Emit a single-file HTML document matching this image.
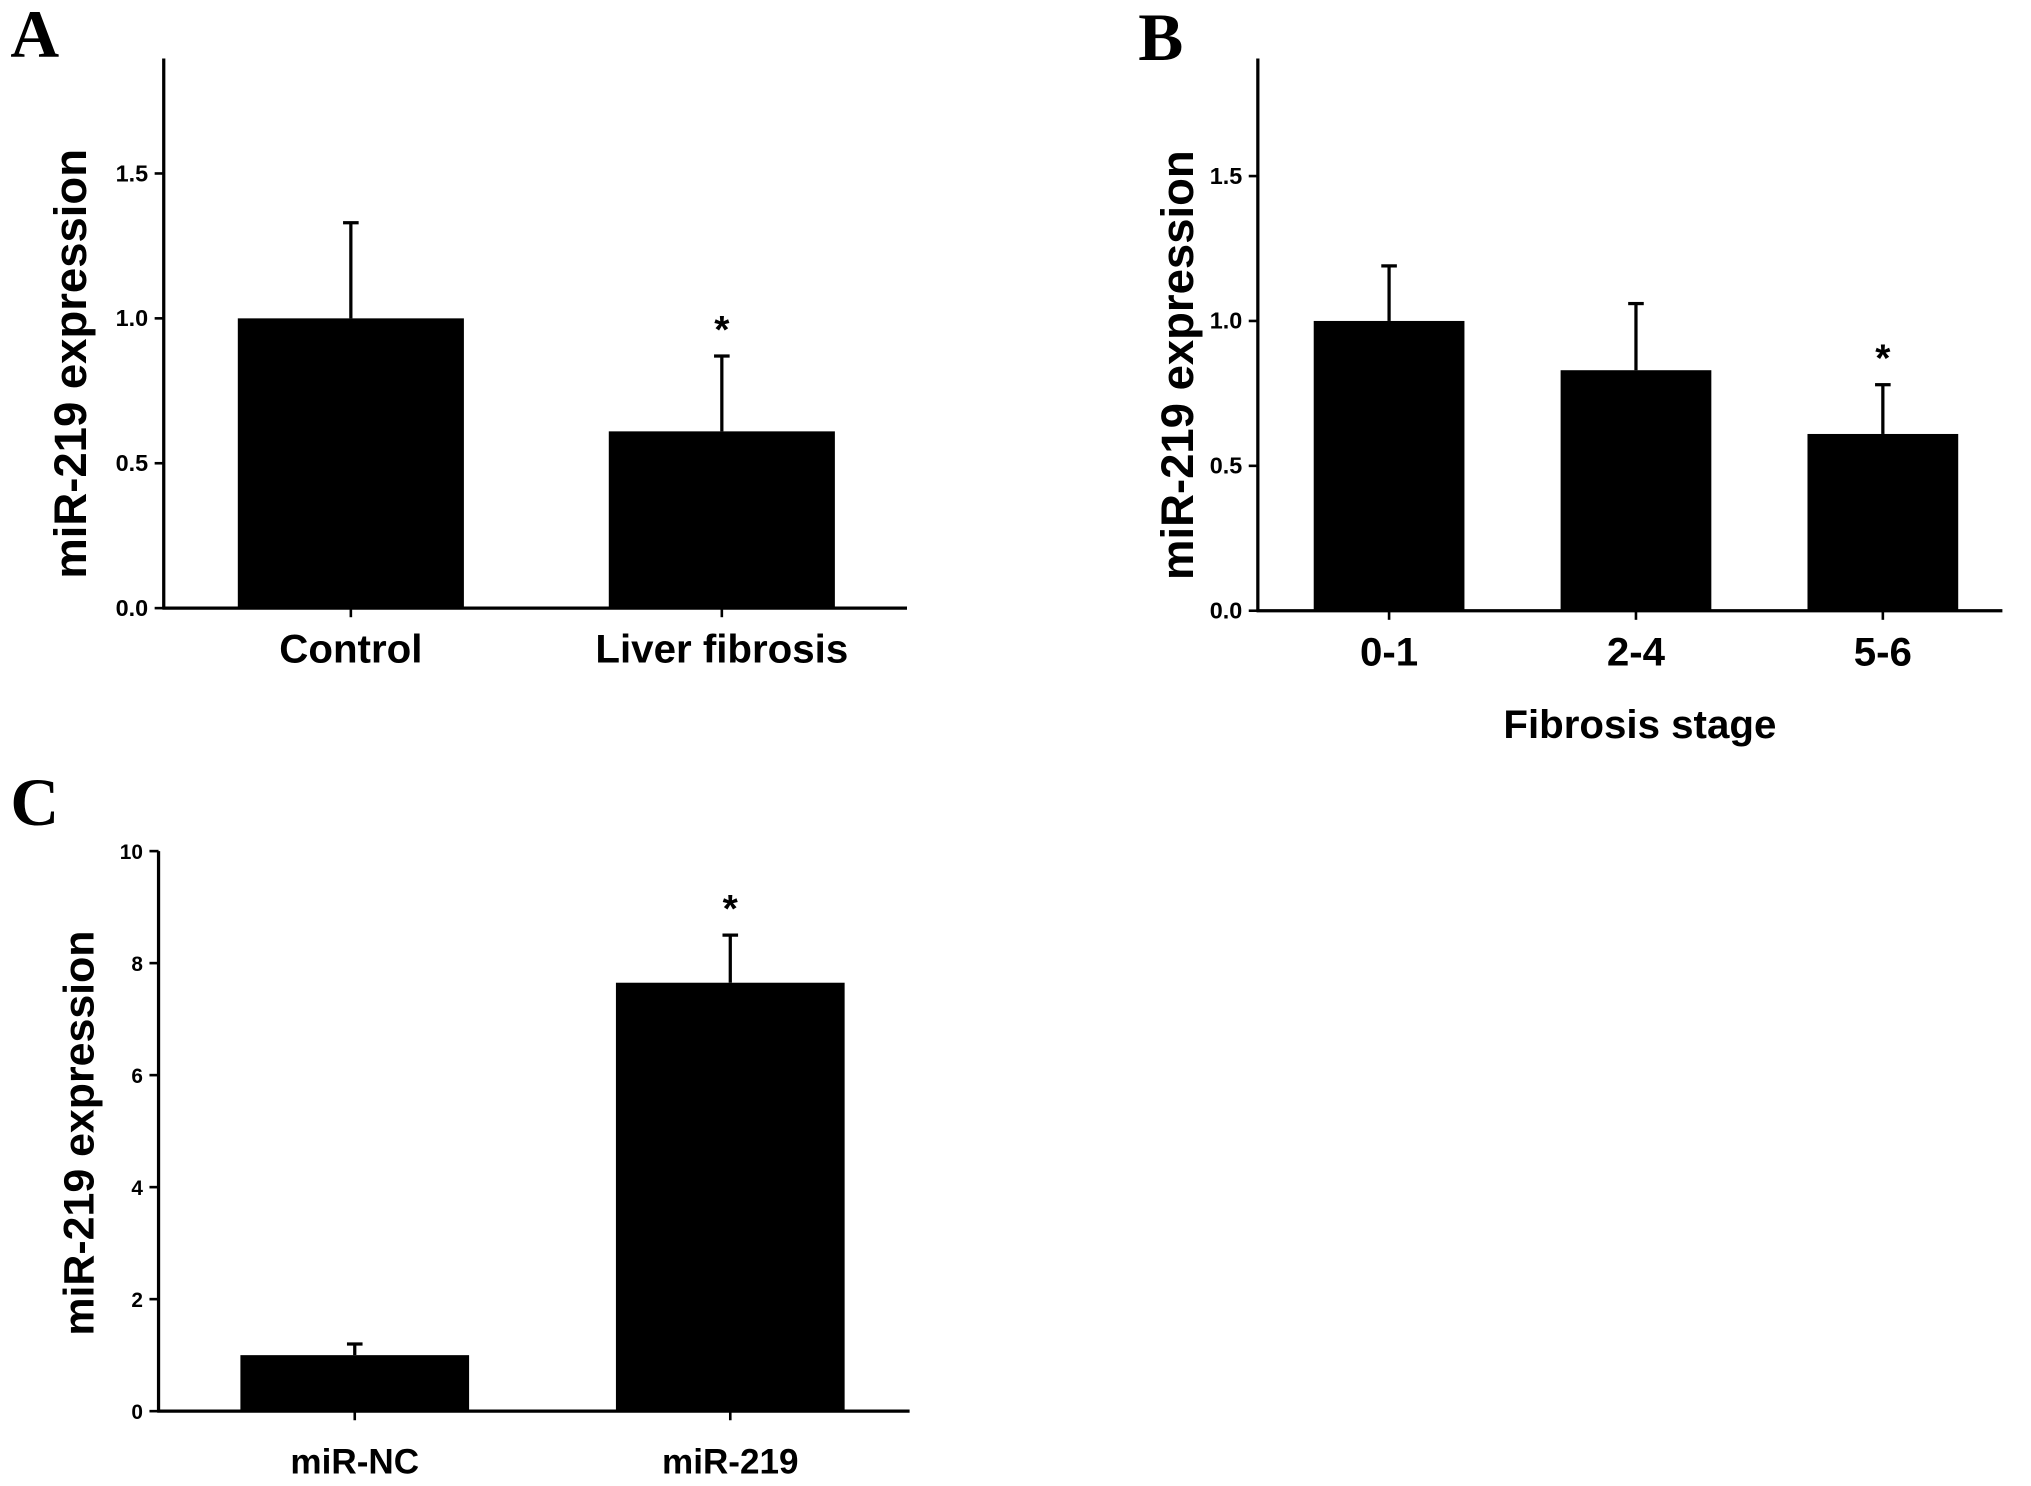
<!DOCTYPE html>
<html><head><meta charset="utf-8"><style>
html,body{margin:0;padding:0;background:#fff;}
svg{display:block;}
text{font-family:"Liberation Sans",sans-serif;font-weight:bold;fill:#000;}
.letter{font-family:"Liberation Serif",serif;font-size:52px;}
</style></head><body>
<svg id="fig" width="2031" height="1486" viewBox="0 0 1563 1143.6"></svg>
<script>
const aCats=["Control","Liver fibrosis"];
const aVals=[1.0,0.61];
const aErr=[0.33,0.26];
const aSig=[false,true];
const aTicks=[0,0.5,1.0,1.5];
const bCats=["0-1","2-4","5-6"];
const bVals=[1.0,0.83,0.61];
const bErr=[0.19,0.23,0.17];
const bSig=[false,false,true];
const bTicks=[0,0.5,1.0,1.5];
const cCats=["miR-NC","miR-219"];
const cVals=[1.0,7.65];
const cErr=[0.2,0.85];
const cSig=[false,true];
const cTicks=[0,2,4,6,8,10];
const svg=document.getElementById('fig');
const NS="http://www.w3.org/2000/svg";
function mk(tag,attrs,parent,txt){const e=document.createElementNS(NS,tag);for(const k in attrs)e.setAttribute(k,attrs[k]);if(txt!==undefined)e.textContent=txt;(parent||svg).appendChild(e);return e;}
function panel(o){
  const g=mk('g',{});
  
  
  const y=v=>o.y0-(v-o.vmin)*o.ppu;
  const ax=mk('line',{x1:o.x0,y1:o.top,x2:o.x0,y2:o.y0+1,stroke:'#000','stroke-width':2.5},g);
  
  const xa=mk('line',{x1:o.x0-1,y1:o.y0,x2:o.x1,y2:o.y0,stroke:'#000','stroke-width':2.5},g);
  
  o.ticks.forEach(t=>{
    mk('line',{x1:o.x0-7,y1:y(t),x2:o.x0,y2:y(t),stroke:'#000','stroke-width':2},g);
    const tl=mk('text',{x:o.x0-12,y:y(t)+6,'text-anchor':'end','font-size':o.tfs,fill:o.tcol},g,o.fmt(t));
    
  });
  o.cats.forEach((c,i)=>{
    const cx=o.cStart+o.cStep*i;
    const w=o.barW;
    const ev=o.vals[i]+o.err[i];
    const el=mk('line',{x1:cx,y1:y(ev),x2:cx,y2:y(o.vals[i]),stroke:'#000','stroke-width':2.5},g);
    
    mk('line',{x1:cx-6,y1:y(ev),x2:cx+6,y2:y(ev),stroke:'#000','stroke-width':2.5},g);
    const b=mk('rect',{x:cx-w/2,y:y(o.vals[i]),width:w,height:o.y0-y(o.vals[i]),fill:'#000'},g);
    
    
    mk('line',{x1:cx,y1:o.y0,x2:cx,y2:o.y0+7,stroke:'#000','stroke-width':2},g);
    const xl=mk('text',{x:cx,y:o.y0+o.xlOff,'text-anchor':'middle','font-size':o.xfs},g,c);
    
    if(o.sig[i]){const s=mk('text',{x:cx,y:y(ev)-10,'text-anchor':'middle','font-size':30},g,'*');
      }
  });
  const yl=mk('text',{x:o.ylx,y:o.yly,'text-anchor':'middle','font-size':o.yfs,transform:`rotate(-90 ${o.ylx} ${o.yly})`},g,'miR-219 expression');
  
  const L=mk('text',{x:o.lx,y:o.ly,class:'letter'},g,o.letter);
  
  return g;
}
const f1=v=>v.toFixed(1);
panel({name:'panel-a',letter:'A',lx:8,ly:44,x0:126,x1:698,y0:468,top:45,vmin:0,ppu:223,ticks:aTicks,fmt:f1,tfs:18,tcol:'#000',cats:aCats,vals:aVals,err:aErr,sig:aSig,barW:174,cStart:270,cStep:285.5,xfs:31,xlOff:42,ylx:66,yly:280,yfs:35});
panel({name:'panel-b',letter:'B',lx:876,ly:46,x0:968,x1:1541,y0:470,top:45,vmin:0,ppu:223,ticks:bTicks,fmt:f1,tfs:18,tcol:'#000',cats:bCats,vals:bVals,err:bErr,sig:bSig,barW:116,cStart:1069,cStep:190,xfs:31,xlOff:42,ylx:918,yly:281,yfs:35});
const fs=mk('text',{x:1262,y:568,'text-anchor':'middle','font-size':31},null,'Fibrosis stage');

panel({name:'panel-c',letter:'C',lx:8,ly:635,x0:122,x1:700,y0:1086,top:655,vmin:0,ppu:43.1,ticks:cTicks,fmt:v=>String(v),tfs:16,tcol:'#333',cats:cCats,vals:cVals,err:cErr,sig:cSig,barW:176,cStart:273,cStep:289,xfs:27,xlOff:48,ylx:72,yly:872,yfs:33});
</script>
</body></html>
